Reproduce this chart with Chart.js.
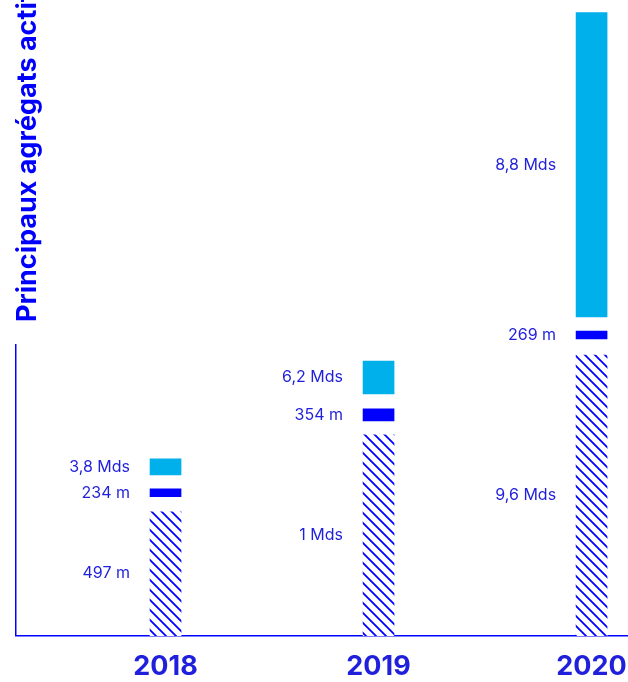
<!DOCTYPE html>
<html>
<head>
<meta charset="utf-8">
<script src="https://cdn.jsdelivr.net/npm/chart.js@4"></script>
<style>
  html, body { margin: 0; padding: 0; background: #fff; overflow: hidden; }
  #wrap { position: relative; width: 628px; height: 682px; }
</style>
</head>
<body>
<div id="wrap"><canvas id="c" width="628" height="682"></canvas></div>
<script>
// ---- data (bar heights as drawn in the picture; labels carry the real amounts) ----
const years = [2018, 2019, 2020];
const tickYears = [2018, 2019, 2020];
const hatchedHeights = [124, 201, 281];
const gapLowHeights = [15, 14, 16];
const darkHeights = [8, 12, 8];
const gapHighHeights = [14, 15, 14];
const cyanHeights = [16, 33, 305];
const hatchedLabels = ['497 m', '1 Mds', '9,6 Mds'];
const darkLabels = ['234 m', '354 m', '269 m'];
const cyanLabels = ['3,8 Mds', '6,2 Mds', '8,8 Mds'];
const titleText = 'Principaux agrégats actifs';

const FONT = 'Inter, "Noto Sans", sans-serif';
const BLUE = '#0000ff';
const CYAN = '#00b0eb';
const TEXT = '#1f1fdc';

function hatchPattern() {
  const s = 10;
  const p = document.createElement('canvas');
  p.width = s; p.height = s;
  const g = p.getContext('2d');
  g.fillStyle = '#fff';
  g.fillRect(0, 0, s, s);
  g.strokeStyle = BLUE;
  g.lineWidth = 1.8;
  g.beginPath();
  g.moveTo(-1, -1); g.lineTo(s + 1, s + 1);
  g.moveTo(-2, s - 2); g.lineTo(2, s + 2);
  g.moveTo(s - 2, -2); g.lineTo(s + 2, 2);
  g.stroke();
  const ctx = document.createElement('canvas').getContext('2d');
  return ctx.createPattern(p, 'repeat');
}

const pts = arr => years.map((y, i) => ({ x: y, y: arr[i] }));
const common = { barThickness: 31, clip: false, borderWidth: 0 };

const labelPlugin = {
  id: 'segLabels',
  afterDatasetsDraw(chart) {
    const ctx = chart.ctx;
    ctx.save();
    ctx.font = '16px ' + FONT;
    ctx.fillStyle = TEXT;
    ctx.textAlign = 'right';
    ctx.textBaseline = 'middle';
    chart.data.datasets.forEach((ds, di) => {
      if (!ds.segLabels) return;
      chart.getDatasetMeta(di).data.forEach((el, i) => {
        const x = el.x - el.width / 2 - 20;
        const y = (el.y + el.base) / 2;
        ctx.fillText(ds.segLabels[i], x, y);
      });
    });
    ctx.restore();
  }
};

const titlePlugin = {
  id: 'sideTitle',
  afterDraw(chart) {
    const ctx = chart.ctx;
    ctx.save();
    ctx.translate(36, 322);
    ctx.rotate(-Math.PI / 2);
    ctx.font = 'bold 27px ' + FONT;
    ctx.fillStyle = BLUE;
    ctx.textAlign = 'left';
    ctx.textBaseline = 'alphabetic';
    ctx.fillText(titleText, 0, 0);
    ctx.restore();
  }
};

new Chart(document.getElementById('c'), {
  type: 'bar',
  data: {
    datasets: [
      { ...common, label: 'hatched', data: pts(hatchedHeights), backgroundColor: hatchPattern(), segLabels: hatchedLabels },
      { ...common, label: 'gap1', data: pts(gapLowHeights), backgroundColor: 'rgba(0,0,0,0)' },
      { ...common, label: 'dark', data: pts(darkHeights), backgroundColor: BLUE, segLabels: darkLabels },
      { ...common, label: 'gap2', data: pts(gapHighHeights), backgroundColor: 'rgba(0,0,0,0)' },
      { ...common, label: 'cyan', data: pts(cyanHeights), backgroundColor: CYAN, segLabels: cyanLabels }
    ]
  },
  options: {
    responsive: false,
    animation: false,
    layout: { padding: { left: 16, top: 345, right: 0, bottom: -16 } },
    plugins: { legend: { display: false }, tooltip: { enabled: false } },
    scales: {
      x: {
        type: 'linear',
        offset: false,
        stacked: true,
        min: 2017.298,
        max: 2020.171,
        grid: { display: false, drawTicks: false },
        border: { display: true, color: BLUE, width: 1.5 },
        afterBuildTicks(scale) { scale.ticks = tickYears.map(v => ({ value: v })); },
        afterFit(scale) { scale.paddingLeft = 0; scale.paddingRight = 0; },
        ticks: {
          callback: v => String(v),
          color: TEXT,
          font: { family: FONT, size: 27, weight: 'bold' },
          padding: 15,
          maxRotation: 0,
          autoSkip: false
        }
      },
      y: {
        stacked: true,
        min: 0,
        max: 291,
        grid: { display: false, drawTicks: false },
        border: { display: true, color: BLUE, width: 1.5 },
        ticks: { display: false }
      }
    }
  },
  plugins: [labelPlugin, titlePlugin]
});
</script>
</body>
</html>
